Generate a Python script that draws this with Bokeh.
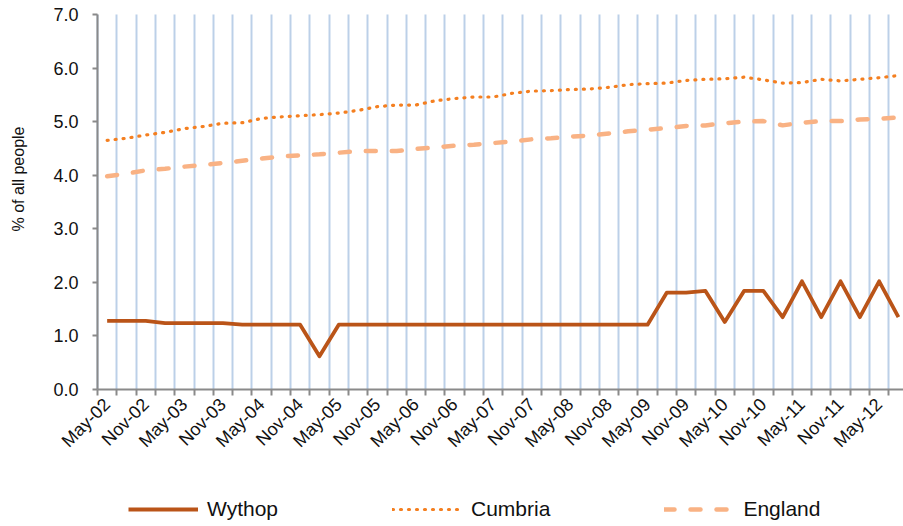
import math
from bokeh.plotting import figure
from bokeh.models import (Range1d, FixedTicker, NumeralTickFormatter, Legend, LegendItem, Label, Grid)
from bokeh.embed import file_html
from bokeh.resources import INLINE

quarters = ["May-02", "Aug-02", "Nov-02", "Feb-03", "May-03", "Aug-03", "Nov-03", "Feb-04",
            "May-04", "Aug-04", "Nov-04", "Feb-05", "May-05", "Aug-05", "Nov-05", "Feb-06",
            "May-06", "Aug-06", "Nov-06", "Feb-07", "May-07", "Aug-07", "Nov-07", "Feb-08",
            "May-08", "Aug-08", "Nov-08", "Feb-09", "May-09", "Aug-09", "Nov-09", "Feb-10",
            "May-10", "Aug-10", "Nov-10", "Feb-11", "May-11", "Aug-11", "Nov-11", "Feb-12",
            "May-12", "Aug-12"]

wythop = [1.28, 1.28, 1.28, 1.24, 1.24, 1.24, 1.24, 1.21, 1.21, 1.21, 1.21, 0.62,
          1.21, 1.21, 1.21, 1.21, 1.21, 1.21, 1.21, 1.21, 1.21, 1.21, 1.21, 1.21,
          1.21, 1.21, 1.21, 1.21, 1.21, 1.81, 1.81, 1.84, 1.26, 1.84, 1.84, 1.35,
          2.02, 1.35, 2.02, 1.35, 2.02, 1.35]

cumbria = [4.65, 4.69, 4.75, 4.80, 4.87, 4.91, 4.97, 4.98, 5.06, 5.09,
           5.11, 5.13, 5.16, 5.21, 5.28, 5.31, 5.31, 5.39, 5.43, 5.46,
           5.46, 5.53, 5.57, 5.58, 5.60, 5.61, 5.64, 5.69, 5.71, 5.72,
           5.77, 5.79, 5.80, 5.83, 5.78, 5.72, 5.73, 5.79, 5.76, 5.79,
           5.82, 5.86]

england = [3.98, 4.03, 4.09, 4.12, 4.16, 4.19, 4.23, 4.27, 4.31, 4.35,
           4.37, 4.39, 4.42, 4.45, 4.45, 4.45, 4.49, 4.52, 4.55, 4.57,
           4.60, 4.63, 4.67, 4.69, 4.72, 4.74, 4.78, 4.82, 4.85, 4.88,
           4.92, 4.93, 4.97, 5.00, 5.01, 4.93, 4.98, 5.01, 5.01, 5.04,
           5.05, 5.08]

y_ticks = [0, 1, 2, 3, 4, 5, 6, 7]
y_title = "% of all people"

FONT = "Liberation Sans"
x = list(range(len(quarters)))
first, last = -0.5, len(quarters) - 0.5          # category-axis extent
ymin, ymax = y_ticks[0], y_ticks[-1]

# whole canvas is the frame; axes are pinned at x=-0.5 / y=0 (Excel-like layout)
PX_X = 19.3     # pixels per category
PX_Y = 53.57    # pixels per y unit
p = figure(width=903, height=526, output_backend="svg", toolbar_location=None,
           x_range=Range1d(first - 97 / PX_X, first + 806 / PX_X),
           y_range=Range1d(ymax - 512 / PX_Y, ymax + 14 / PX_Y),
           min_border=0, min_border_left=0, min_border_right=0,
           min_border_top=0, min_border_bottom=0)
p.outline_line_color = None
p.background_fill_color = "white"

boundaries = [i - 0.5 for i in range(len(quarters) + 1)]

# x axis
xa = p.xaxis[0]
xa.fixed_location = 0
xa.bounds = (first, last + 1)
xa.ticker = FixedTicker(ticks=[i for i in x if i % 2 == 0], minor_ticks=boundaries)
xa.major_label_overrides = {i: quarters[i] for i in x if i % 2 == 0}
xa.major_label_orientation = math.pi / 4
xa.major_tick_line_color = None
xa.major_tick_out = 6
xa.major_tick_in = 0
xa.minor_tick_out = 6
xa.minor_tick_in = 0
xa.minor_tick_line_color = "#8a8a8a"
xa.minor_tick_line_width = 2
xa.axis_line_color = "#8a8a8a"
xa.axis_line_width = 2
xa.major_label_text_font = FONT
xa.major_label_text_font_size = "18px"
xa.major_label_text_color = "#111111"
xa.major_label_standoff = 6

# y axis
ya = p.yaxis[0]
ya.fixed_location = first
ya.bounds = (ymin, ymax)
ya.ticker = FixedTicker(ticks=y_ticks)
ya.formatter = NumeralTickFormatter(format="0.0")
ya.minor_tick_line_color = None
ya.major_tick_out = 5
ya.major_tick_in = 0
ya.major_tick_line_color = "#8a8a8a"
ya.major_tick_line_width = 2
ya.axis_line_color = "#8a8a8a"
ya.axis_line_width = 2
ya.major_label_text_font = FONT
ya.major_label_text_font_size = "18px"
ya.major_label_text_color = "#111111"
ya.major_label_standoff = 14

# grids
p.ygrid.grid_line_color = None
p.xgrid.grid_line_color = None
if "cross_bounds" in Grid.properties():
    p.xgrid.minor_grid_line_color = "#BCD0E8"
    p.xgrid.minor_grid_line_width = 2
    p.xgrid.cross_bounds = (ymin, ymax)
else:
    p.segment(x0=boundaries[1:], x1=boundaries[1:], y0=ymin, y1=ymax,
              line_color="#BCD0E8", line_width=2, level="underlay")

r_w = p.line(x, wythop, line_color="#BA5418", line_width=3.8, line_join="round")
r_c = p.line(x, cumbria, line_color="#F47F20", line_width=3.2, line_dash="1 7", line_cap="round")
r_e = p.line(x, england, line_color="#F9B284", line_width=4.5, line_dash="10 16", line_cap="round")

legend = Legend(items=[LegendItem(label="Wythop", renderers=[r_w]),
                       LegendItem(label="Cumbria", renderers=[r_c]),
                       LegendItem(label="England", renderers=[r_e])],
                orientation="horizontal", location=(128, 5),
                glyph_width=70, glyph_height=20, label_standoff=9, spacing=114,
                padding=0, margin=0, border_line_color=None, background_fill_alpha=0,
                label_text_font=FONT, label_text_font_size="21px", label_text_color="#111111")
p.add_layout(legend, "center")

p.add_layout(Label(x=first - 79 / PX_X, y=(389 - 178.5) / PX_Y, text=y_title, angle=math.pi / 2,
                   text_align="center", text_baseline="middle",
                   text_font=FONT, text_font_size="16px", text_color="#111111"))

open("out.html", "w").write(file_html(p, INLINE))
